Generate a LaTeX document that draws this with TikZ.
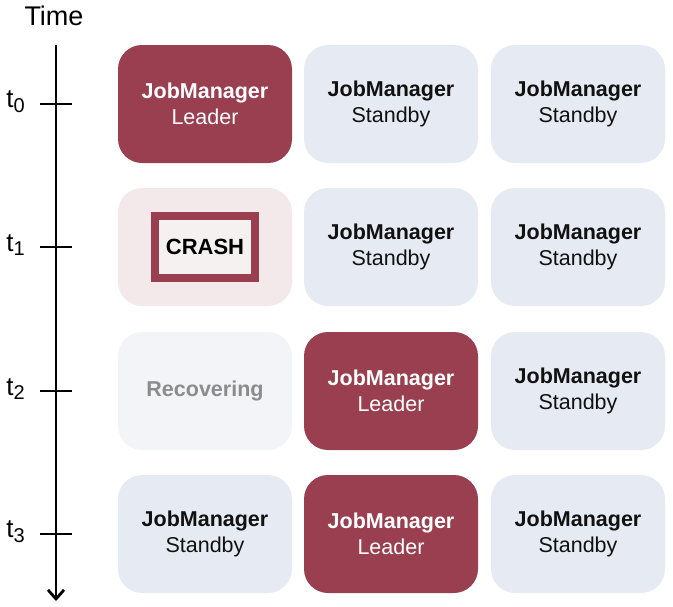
\documentclass[tikz,border=0pt]{standalone}
\usepackage{fontspec}
\setmainfont{Liberation Sans}
\usetikzlibrary{arrows.meta,positioning}
\definecolor{leaderred}{HTML}{993F4F}
\definecolor{standbyblue}{HTML}{E6EBF3}
\definecolor{crashbg}{HTML}{F3E8EA}
\definecolor{crashin}{HTML}{F5F1F1}
\definecolor{recbg}{HTML}{F3F4F8}
\definecolor{recgray}{HTML}{8C8C8C}
\definecolor{dark}{HTML}{111111}
\newcommand{\tlabel}[1]{t\raisebox{-0.35ex}{\fontsize{20}{20}\selectfont #1}}
\tikzset{
  jmbox/.style={rounded corners=24pt, minimum width=174pt, minimum height=118pt, align=center, inner sep=0pt, font=\fontsize{21.5}{26}\selectfont},
  leaderbox/.style={jmbox, fill=leaderred, text=white},
  standbybox/.style={jmbox, fill=standbyblue, text=dark},
  crashcell/.style={jmbox, fill=crashbg},
  recbox/.style={jmbox, fill=recbg, text=recgray},
  crashbox/.style={draw=leaderred, line width=8pt, fill=crashin, minimum width=100pt, minimum height=62pt, inner sep=0pt, font=\fontsize{22}{24}\selectfont\bfseries},
  timeaxis/.style={line width=2.8pt, draw=black, -{Straight Barb[length=9pt,width=16pt,line width=2.8pt]}},
  tick/.style={line width=2.8pt, draw=black}
}

\begin{document}
\begin{tikzpicture}[x=1pt,y=-1pt]
  \useasboundingbox (0,0) rectangle (673,606);
  % time axis
  \node[font=\fontsize{27}{30}\selectfont] (time) at (54,16) {Time};
  \coordinate (top) at (56,45);
  \coordinate (bottom) at (56,601);
  \draw[timeaxis] (top) -- (bottom);
  \foreach \i/\y in {0/104,1/247,2/391,3/534} {
    \coordinate (l\i) at (40,\y);
    \coordinate (r\i) at (72,\y);
    \draw[tick] (l\i) -- (r\i);
    \node[font=\fontsize{26}{28}\selectfont, anchor=east, inner sep=0pt] (t\i) at (25,\y-2) {\tlabel{\i}};
  }
  % t0
  \node[leaderbox] (a0) at (205,104) {\textbf{JobManager}\\Leader};
  \node[standbybox] (b0) at (391,104) {\textbf{JobManager}\\Standby};
  \node[standbybox] (c0) at (578,104) {\textbf{JobManager}\\Standby};
  % t1
  \node[crashcell] (a1) at (205,247) {};
  \node[crashbox] (crash) at (a1) {CRASH};
  \node[standbybox] (b1) at (391,247) {\textbf{JobManager}\\Standby};
  \node[standbybox] (c1) at (578,247) {\textbf{JobManager}\\Standby};
  % t2
  \node[recbox] (a2) at (205,391) {\textbf{Recovering}};
  \node[leaderbox] (b2) at (391,391) {\textbf{JobManager}\\Leader};
  \node[standbybox] (c2) at (578,391) {\textbf{JobManager}\\Standby};
  % t3
  \node[standbybox] (a3) at (205,534) {\textbf{JobManager}\\Standby};
  \node[leaderbox] (b3) at (391,534) {\textbf{JobManager}\\Leader};
  \node[standbybox] (c3) at (578,534) {\textbf{JobManager}\\Standby};
\end{tikzpicture}
\end{document}
